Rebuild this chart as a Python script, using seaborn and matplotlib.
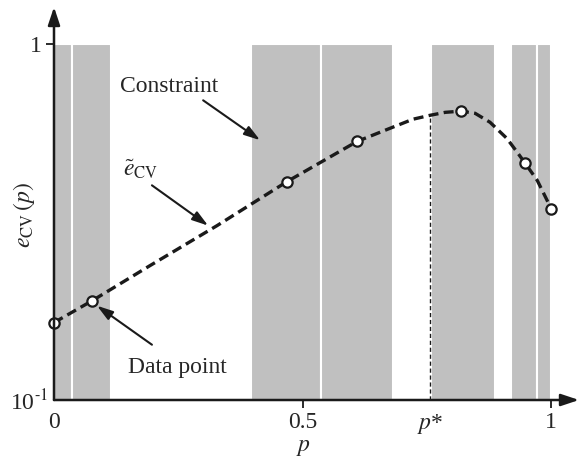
import numpy as np
import pandas as pd
import matplotlib
matplotlib.use("Agg")
import matplotlib.pyplot as plt
import matplotlib.transforms as mtransforms
import seaborn as sns

# ---- data ----
curve_p = [0.0, 0.0765, 0.193, 0.328, 0.469, 0.610, 0.676, 0.722, 0.757, 0.787,
           0.819, 0.847, 0.877, 0.911, 0.932, 0.948, 0.972, 1.0]
curve_e = [0.165, 0.190, 0.2385, 0.309, 0.411, 0.533, 0.580, 0.615, 0.631, 0.643,
           0.648, 0.639, 0.603, 0.543, 0.496, 0.462, 0.414, 0.345]
point_p = [0.0, 0.0765, 0.469, 0.610, 0.819, 0.948, 1.0]
point_e = [0.165, 0.190, 0.411, 0.533, 0.648, 0.462, 0.345]
band_start = [0.0, 0.036, 0.396, 0.537, 0.759, 0.920, 0.972]
band_end = [0.036, 0.115, 0.537, 0.682, 0.887, 0.972, 1.0]
p_star = 0.757
e_star = 0.631
xtick_vals = [0, 0.5, p_star, 1]
xtick_labels = ["0", "0.5", "$p$*", "1"]
ytick_vals = [0.1, 1]
ytick_labels = [r"10$^{\text{-}1}$", "1"]

sns.set_theme(style="white")
plt.rcParams["font.family"] = ["Liberation Serif", "DejaVu Serif"]
plt.rcParams["mathtext.fontset"] = "stix"
FS = 17

fig = plt.figure(figsize=(5.79, 4.57), dpi=100)
ax = fig.add_axes([54 / 579, 57 / 457, 525 / 579, 393 / 457])
ax.set_yscale("log")
ax.set_xlim(0, 1.056)
ax.set_ylim(0.1, 1.271)

# constraint bands
for a, b in zip(band_start, band_end):
    ax.fill_between([a, b], 0.1, 1.0, facecolor="#c0c0c0", edgecolor="white",
                    linewidth=1.5, zorder=1)

# p* dashed line
ax.plot([p_star, p_star], [0.1, e_star], color="k", lw=1.0,
        linestyle=(0, (3, 2)), zorder=2)

# curve
df_c = pd.DataFrame({"p": curve_p, "e": curve_e})
sns.lineplot(data=df_c, x="p", y="e", ax=ax, color="k", lw=2.4,
             linestyle=(0, (3.0, 1.6)), zorder=3, sort=False)
df_p = pd.DataFrame({"p": point_p, "e": point_e})
sns.scatterplot(data=df_p, x="p", y="e", ax=ax, marker="o", s=55,
                facecolor="white", edgecolor="k", linewidth=1.6, zorder=5,
                clip_on=False)

# spines -> arrows
for s in ax.spines.values():
    s.set_visible(False)
arrow_kw = dict(arrowstyle="-|>,head_length=0.9,head_width=0.3", lw=1.8,
                color="k", shrinkA=0, shrinkB=0)
ax.annotate("", xy=(1, 0), xytext=(0, 0), xycoords="axes fraction",
            arrowprops=arrow_kw, zorder=10, annotation_clip=False)
ax.annotate("", xy=(0, 1), xytext=(0, 0), xycoords="axes fraction",
            arrowprops=arrow_kw, zorder=10, annotation_clip=False)

# ticks
ax.set_xticks(xtick_vals)
ax.set_xticklabels(xtick_labels, fontsize=FS)
ax.set_yticks(ytick_vals)
ax.set_yticklabels(ytick_labels, fontsize=FS)
ax.yaxis.set_minor_locator(matplotlib.ticker.NullLocator())
ax.tick_params(axis="both", direction="inout", length=11, width=1.3,
               color="k", bottom=True, left=True, pad=3)
ax.tick_params(axis="y", pad=3.5)
xt = ax.xaxis.get_major_ticks()
xt[0].tick1line.set_visible(False)
xt[2].tick1line.set_visible(False)
yt = ax.yaxis.get_major_ticks()
yt[0].tick1line.set_visible(False)
# shift the 10^-1 label right, as in the reference
lab = ax.get_yticklabels()[0]
lab.set_transform(lab.get_transform() +
                  mtransforms.ScaledTranslation(7 / 100, 0, fig.dpi_scale_trans))

ax.set_xlabel("$p$", fontsize=FS)
ax.set_ylabel(r"$e_{\rm CV}\,(p)$", fontsize=FS)
ax.xaxis.set_label_coords((303 - 54) / 525, -0.095)
ax.yaxis.set_label_coords(-0.033, 0.47)

# annotations
txt_kw = dict(fontsize=FS, ha="center", va="baseline", zorder=6)
ax.text(0.231, 0.7325, "Constraint", **txt_kw)
ax.text(0.175, 0.4276, r"$\tilde{e}_{\rm CV}$", **txt_kw)
ax.text(0.2475, 0.119, "Data point", **txt_kw)
ann_kw = dict(arrowstyle="-|>,head_length=0.8,head_width=0.25", lw=1.5,
              color="k", shrinkA=0, shrinkB=0)
ax.annotate("", xy=(0.4145, 0.537), xytext=(0.300, 0.695), arrowprops=ann_kw, zorder=6)
ax.annotate("", xy=(0.310, 0.309), xytext=(0.197, 0.401), arrowprops=ann_kw, zorder=6)
ax.annotate("", xy=(0.0865, 0.184), xytext=(0.197, 0.143), arrowprops=ann_kw, zorder=6)

fig.savefig("out.png", dpi=100)
